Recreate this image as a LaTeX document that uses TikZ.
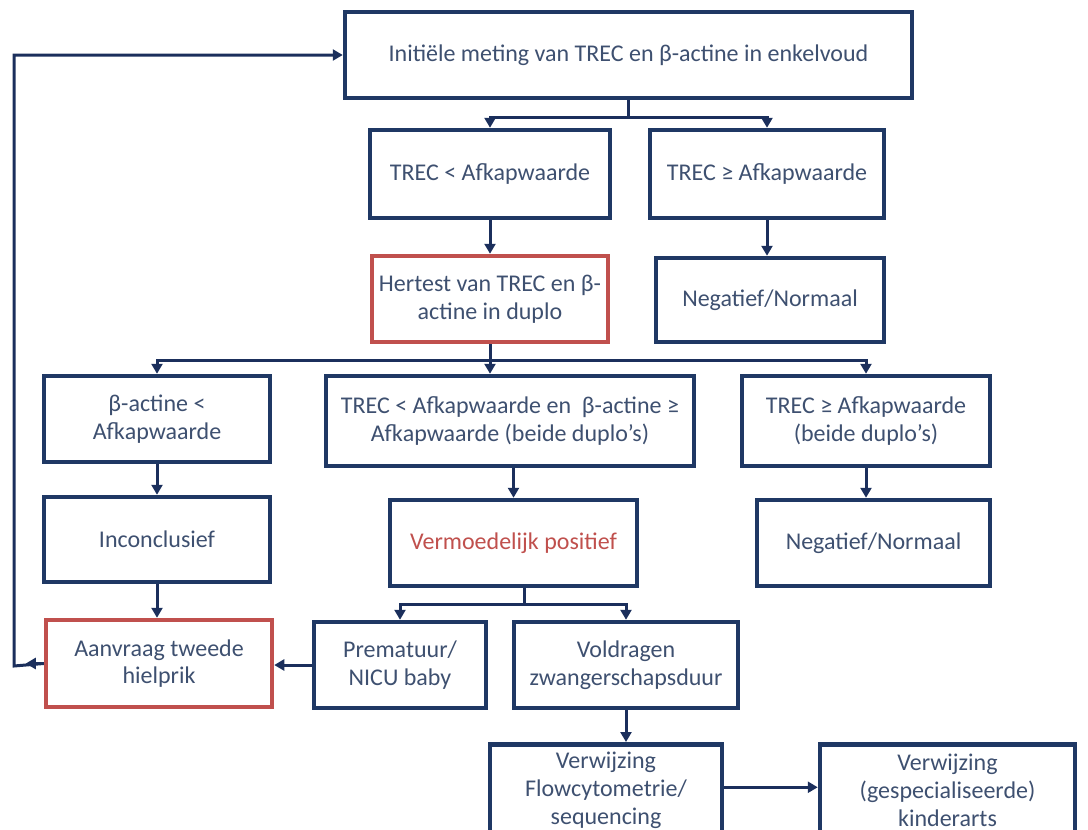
\documentclass[tikz,border=0pt]{standalone}
\usepackage{fontspec}
\setmainfont{Carlito}
\usetikzlibrary{arrows.meta,calc}
\definecolor{navy}{HTML}{1F3864}
\definecolor{arrowc}{HTML}{1B2F5C}
\definecolor{txt}{HTML}{3E5070}
\definecolor{redb}{HTML}{C0504D}
\begin{document}
\begin{tikzpicture}[x=1pt,y=-1pt,
  box/.style={draw=navy,line width=4.5pt,fill=white,align=center,text=txt,
    font=\fontsize{24}{27.5}\selectfont,inner sep=2pt},
  redbox/.style={box,draw=redb},
  conn/.style={draw=arrowc,line width=3pt},
  arr/.style={conn,-{Triangle[length=10pt,width=11pt]}},
]
\useasboundingbox (0,0) rectangle (1088,830);
\clip (0,0) rectangle (1088,830);
\node[box,minimum width=567pt,minimum height=86pt] (init) at (628.5,55) {Initiële meting van TREC en β-actine in enkelvoud};
\node[box,minimum width=240pt,minimum height=88pt] (tl) at (490,174) {TREC < Afkapwaarde};
\node[box,minimum width=234pt,minimum height=88pt] (tr) at (767,174) {TREC ≥ Afkapwaarde};
\node[redbox,minimum width=236pt,minimum height=86pt] (her) at (490,299) {Hertest van TREC en β-\\actine in duplo};
\node[box,minimum width=228pt,minimum height=84pt] (neg1) at (770,300) {Negatief/Normaal};
\node[box,minimum width=226pt,minimum height=86pt] (ba) at (157,419) {β-actine <\\Afkapwaarde};
\node[box,minimum width=368pt,minimum height=90pt] (mid) at (510,421) {TREC < Afkapwaarde en \ β-actine ≥\\Afkapwaarde (beide duplo’s)};
\node[box,minimum width=248pt,minimum height=90pt] (rt) at (866,421) {TREC ≥ Afkapwaarde\\(beide duplo’s)};
\node[box,minimum width=226pt,minimum height=85pt] (inc) at (157,539.5) {Inconclusief};
\node[box,minimum width=247pt,minimum height=86pt,text=redb] (verm) at (513.5,543) {Vermoedelijk positief};
\node[box,minimum width=233pt,minimum height=86pt] (neg2) at (873.5,543) {Negatief/Normaal};
\node[redbox,minimum width=226pt,minimum height=87pt] (aan) at (159,663.5) {Aanvraag tweede\\hielprik};
\node[box,minimum width=172pt,minimum height=86pt] (prem) at (400,665) {Prematuur/\\NICU baby};
\node[box,minimum width=224pt,minimum height=86pt] (vold) at (626,665) {Voldragen\\zwangerschapsduur};
\node[box,minimum width=232pt,minimum height=92pt,anchor=north,font=\fontsize{24}{28}\selectfont] (flow) at (606,742) {Verwijzing\\Flowcytometrie/\\sequencing};
\node[box,minimum width=255pt,minimum height=92pt,anchor=north,font=\fontsize{24}{28}\selectfont] (kind) at (947.5,742) {Verwijzing\\(gespecialiseerde)\\kinderarts};

% branch 1
\coordinate (b1) at (628,117);
\draw[conn] (init.south -| b1) -- (b1);
\draw[arr] (b1) -| (tl.north);
\draw[arr] (b1) -| (tr.north);
\draw[arr] (tl.south) -- (her.north);
\draw[arr] (tr.south) -- (tr.south |- neg1.north);
% branch 2
\coordinate (b2) at (490,360);
\draw[conn] (her.south) -- (b2);
\draw[arr] (b2) -| (ba.north);
\draw[arr] (b2) -- (b2 |- mid.north);
\draw[arr] (b2) -| (rt.north);
\draw[arr] (ba.south) -- (inc.north);
\draw[arr] (mid.south -| verm.north) -- (verm.north);
\draw[arr] (rt.south) -- (neg2.north -| rt.south);
\draw[arr] (inc.south) -- (aan.north -| inc.south);
% branch 3
\coordinate (b3) at (524,604);
\draw[conn] (verm.south -| b3) -- (b3);
\draw[arr] (b3) -| (prem.north);
\draw[arr] (b3) -| (vold.north);
\draw[arr] (prem.west) -- (prem.west -| aan.east);
\draw[arr] (vold.south) -- (flow.north -| vold.south);
\draw[arr] ([yshift=3pt]flow.east) -- ([yshift=3pt]flow.east -| kind.west);
% loop back
\coordinate (lp) at (14,666);
\draw[arr] (aan.west) -- ++(-18,0);
\draw[arr] (aan.west) -- (lp) |- (init.west);
\end{tikzpicture}
\end{document}
